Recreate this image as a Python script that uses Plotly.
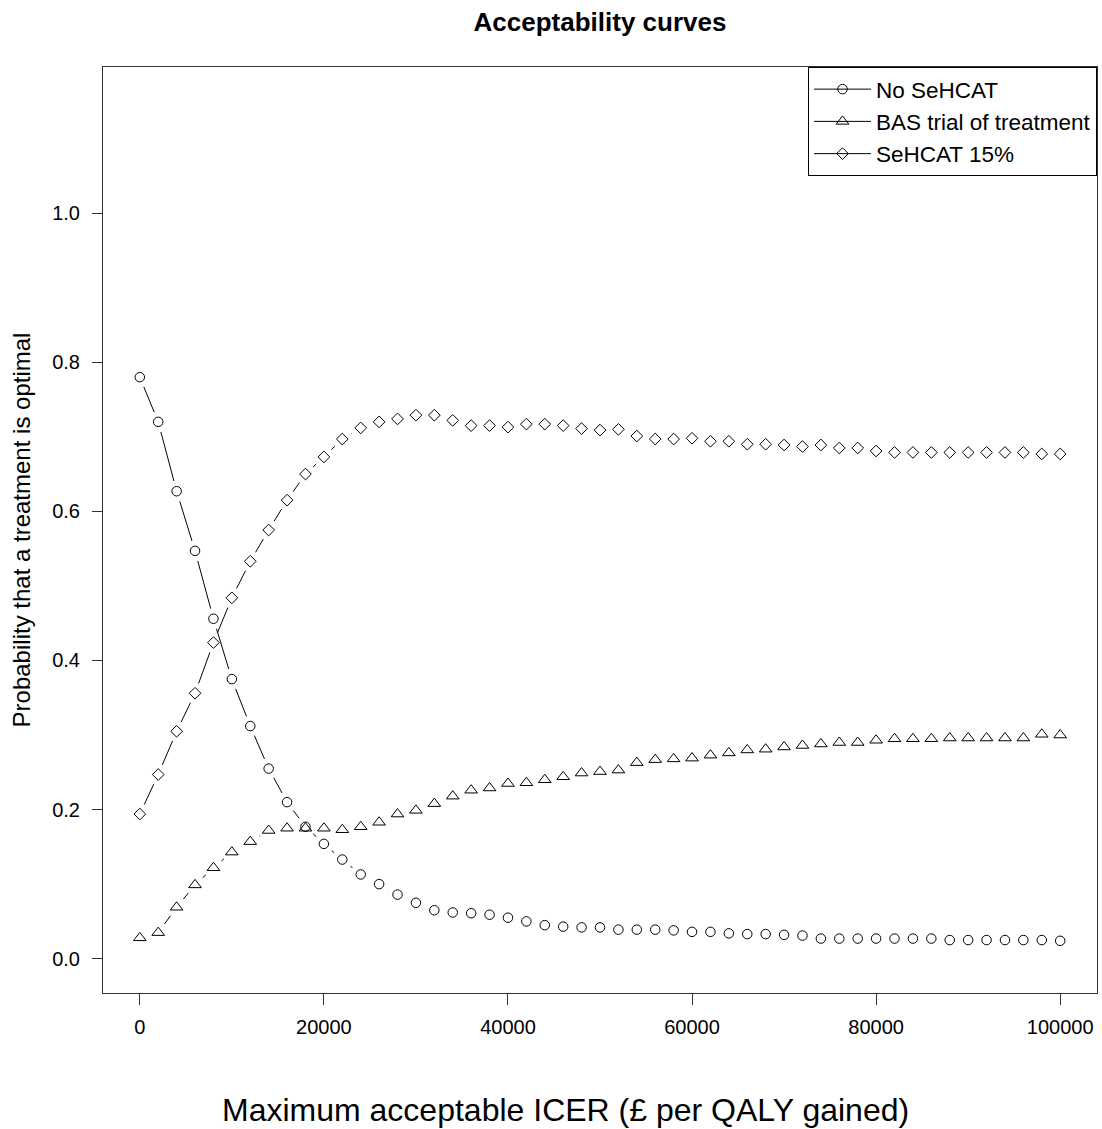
import plotly.graph_objects as go

# ---------------- data ----------------
icer = list(range(0, 100001, 2000))

no_sehcat = [0.780, 0.720, 0.627, 0.547, 0.456, 0.375, 0.312, 0.255, 0.210, 0.177,
             0.154, 0.133, 0.113, 0.100, 0.086, 0.075, 0.065, 0.062, 0.061, 0.059,
             0.055, 0.050, 0.045, 0.043, 0.042, 0.042, 0.039, 0.039, 0.039, 0.038,
             0.036, 0.036, 0.034, 0.033, 0.033, 0.032, 0.031, 0.027, 0.027, 0.027,
             0.027, 0.027, 0.027, 0.027, 0.025, 0.025, 0.025, 0.025, 0.025, 0.025,
             0.024]

bas_trial = [0.028, 0.035, 0.069, 0.099, 0.122, 0.143, 0.157, 0.172, 0.175, 0.175,
             0.175, 0.173, 0.177, 0.183, 0.194, 0.199, 0.208, 0.218, 0.226, 0.229,
             0.235, 0.236, 0.240, 0.244, 0.249, 0.251, 0.253, 0.263, 0.267, 0.268,
             0.269, 0.273, 0.276, 0.280, 0.281, 0.284, 0.286, 0.288, 0.290, 0.290,
             0.293, 0.295, 0.295, 0.295, 0.296, 0.296, 0.296, 0.296, 0.296, 0.301,
             0.300]

sehcat15 = [0.194, 0.247, 0.305, 0.356, 0.424, 0.484, 0.533, 0.575, 0.615, 0.650,
            0.673, 0.697, 0.712, 0.720, 0.724, 0.729, 0.729, 0.722, 0.715, 0.715,
            0.713, 0.717, 0.717, 0.715, 0.711, 0.709, 0.710, 0.701, 0.697, 0.697,
            0.698, 0.694, 0.694, 0.690, 0.690, 0.689, 0.687, 0.689, 0.685, 0.685,
            0.681, 0.679, 0.679, 0.679, 0.679, 0.679, 0.679, 0.679, 0.679, 0.677,
            0.677]

series_names = ["No SeHCAT", "BAS trial of treatment", "SeHCAT 15%"]
series_values = [no_sehcat, bas_trial, sehcat15]
series_symbols = ["circle-open", "triangle-up-open", "diamond-open"]
series_sizes = [9.5, 11, 9]

x_ticks = [0, 20000, 40000, 60000, 80000, 100000]
y_ticks = [0.0, 0.2, 0.4, 0.6, 0.8, 1.0]

# ---------------- layout geometry ----------------
W, H = 1102, 1129
ML, MR, MT, MB = 103, 5, 67, 136
XR = [-4000, 104000]
YR = [-0.046, 1.196]
plot_w = W - ML - MR
plot_h = H - MT - MB
sx = plot_w / (XR[1] - XR[0])
sy = plot_h / (YR[1] - YR[0])
GAP = 10.5  # px gap around each point (R type="b")


def gapped_segments(xs, ys):
    gx, gy = [], []
    for i in range(len(xs) - 1):
        dxp = (xs[i + 1] - xs[i]) * sx
        dyp = (ys[i + 1] - ys[i]) * sy
        d = (dxp ** 2 + dyp ** 2) ** 0.5
        if d > 2 * GAP:
            f = GAP / d
            ddx = xs[i + 1] - xs[i]
            ddy = ys[i + 1] - ys[i]
            gx += [xs[i] + f * ddx, xs[i + 1] - f * ddx, None]
            gy += [ys[i] + f * ddy, ys[i + 1] - f * ddy, None]
    return gx, gy


FONT = "Liberation Sans, Arial, sans-serif"
fig = go.Figure()

for name, vals, sym, sz in zip(series_names, series_values, series_symbols, series_sizes):
    gx, gy = gapped_segments(icer, vals)
    fig.add_trace(go.Scatter(x=gx, y=gy, mode="lines",
                             line=dict(color="black", width=1),
                             showlegend=False, hoverinfo="skip"))
    fig.add_trace(go.Scatter(x=icer, y=vals, mode="markers", name=name,
                             marker=dict(symbol=sym, size=sz, color="black",
                                         line=dict(color="black", width=1)),
                             showlegend=False))
    # legend entry (line through symbol)
    fig.add_trace(go.Scatter(x=[None], y=[None], mode="lines+markers", name=name,
                             line=dict(color="black", width=1),
                             marker=dict(symbol=sym, size=sz, color="black",
                                         line=dict(color="black", width=1))))

fig.update_layout(
    width=W, height=H,
    margin=dict(l=ML, r=MR, t=MT, b=MB, autoexpand=False),
    paper_bgcolor="white", plot_bgcolor="white",
    font=dict(family=FONT, color="black"),
    title=dict(text="<b>Acceptability curves</b>", x=0.5, xanchor="center", xref="paper",
               y=1 - 22 / H, yanchor="middle", font=dict(size=26, family=FONT)),
    legend=dict(x=1, xanchor="right", y=1, yanchor="top",
                bgcolor="white", bordercolor="black", borderwidth=1,
                font=dict(size=22.5, family=FONT), itemwidth=57,
                tracegroupgap=0),
    showlegend=True,
    annotations=[dict(text="Maximum acceptable ICER (£ per QALY gained)",
                      xref="paper", yref="paper",
                      x=(565 - ML) / plot_w, y=(H - MB - 1110) / plot_h,
                      xanchor="center", yanchor="middle", showarrow=False,
                      font=dict(size=32, family=FONT))],
)

fig.update_xaxes(range=XR, tickvals=x_ticks, ticktext=[str(v) for v in x_ticks],
                 showgrid=False, zeroline=False, showline=True, mirror=True,
                 linecolor="#333", linewidth=1, ticks="outside", ticklen=11,
                 tickcolor="#333", tickfont=dict(size=20, family=FONT),
                 ticklabelstandoff=5)
fig.update_yaxes(range=YR, tickvals=y_ticks, ticktext=[f"{v:.1f}" for v in y_ticks],
                 showgrid=False, zeroline=False, showline=True, mirror=True,
                 linecolor="#333", linewidth=1, ticks="outside", ticklen=10,
                 tickcolor="#333", tickfont=dict(size=20, family=FONT),
                 ticklabelstandoff=8,
                 title=dict(text="Probability that a treatment is optimal",
                            font=dict(size=24, family=FONT), standoff=14))

fig.write_html("out.html", config={"displayModeBar": False},
               post_script="document.body.style.margin='0';document.body.style.overflow='hidden';")
